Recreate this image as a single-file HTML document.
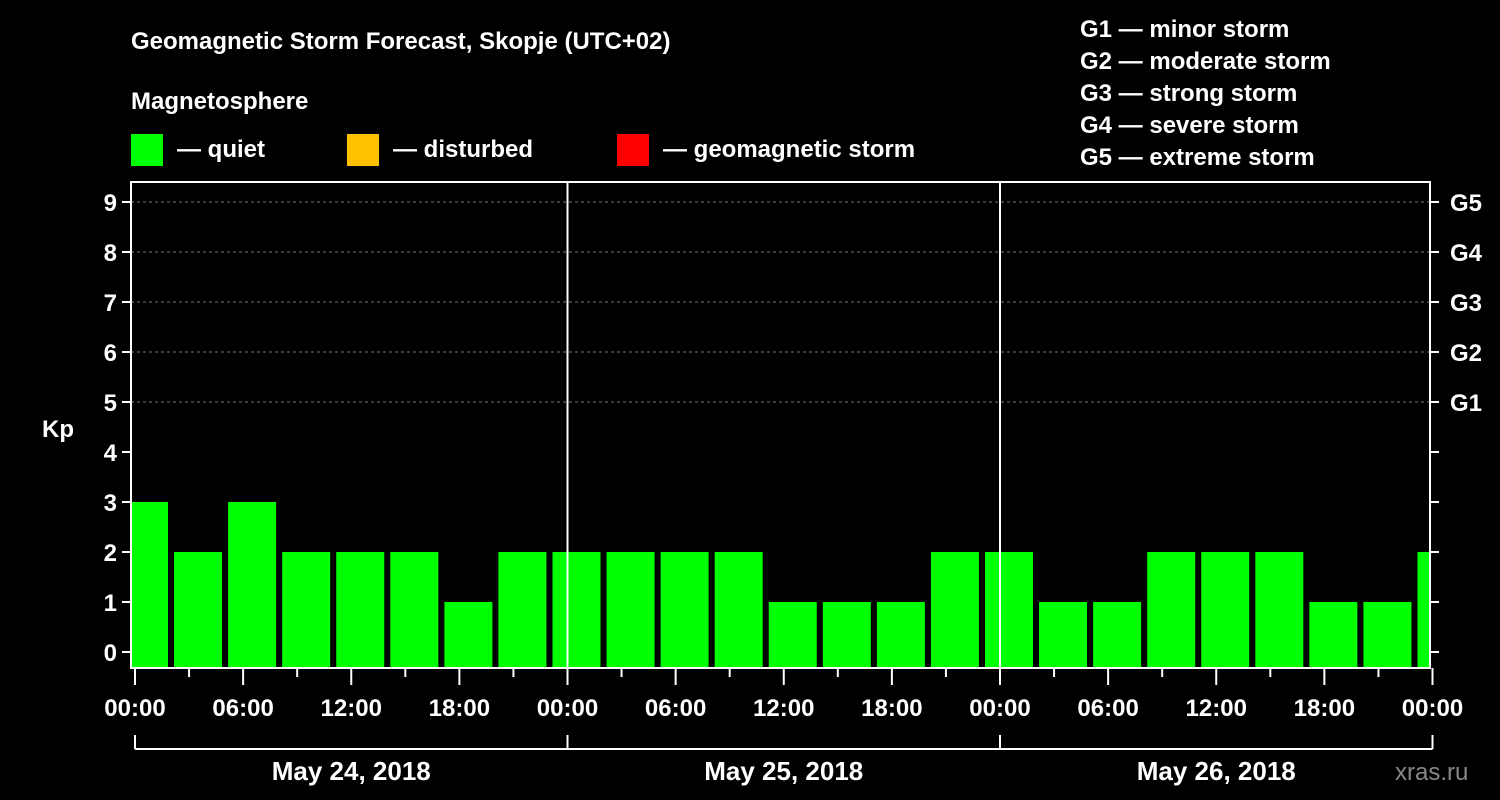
<!DOCTYPE html>
<html><head><meta charset="utf-8"><style>
html,body{margin:0;padding:0;background:#000;}
svg{display:block;font-family:"Liberation Sans",Arial,sans-serif;font-weight:bold;}
</style></head><body>
<svg id="chart" width="1500" height="800" viewBox="0 0 1500 800">
<rect width="1500" height="800" fill="#000"/>
<text x="131" y="49" fill="#fff" font-size="24">Geomagnetic Storm Forecast, Skopje (UTC+02)</text>
<text x="131" y="109" fill="#fff" font-size="24">Magnetosphere</text>
<g><rect x="131" y="134" width="32" height="32" fill="#00ff00"/><text x="177" y="157" fill="#fff" font-size="24">— quiet</text></g>
<g><rect x="347" y="134" width="32" height="32" fill="#ffc000"/><text x="393" y="157" fill="#fff" font-size="24">— disturbed</text></g>
<g><rect x="617" y="134" width="32" height="32" fill="#ff0000"/><text x="663" y="157" fill="#fff" font-size="24">— geomagnetic storm</text></g>
<g fill="#fff" font-size="24">
<text x="1080" y="37">G1 — minor storm</text>
<text x="1080" y="69">G2 — moderate storm</text>
<text x="1080" y="101">G3 — strong storm</text>
<text x="1080" y="133">G4 — severe storm</text>
<text x="1080" y="165">G5 — extreme storm</text>
</g>
<g id="grid"></g>
<g id="bars"></g>
<g id="axes"></g>
<text x="42" y="437" fill="#fff" font-size="24">Kp</text>
<text x="1395" y="780" fill="#888" font-size="24" font-weight="normal">xras.ru</text>
</svg>
<script>
const kpValues = [3,2,3,2,2,2,1,2,2,2,2,2,1,1,1,2,2,1,1,2,2,2,1,1,2];
const yTicks = [0,1,2,3,4,5,6,7,8,9];
const gLabels = ["G1","G2","G3","G4","G5"];
const xTickLabels = ["00:00","06:00","12:00","18:00","00:00","06:00","12:00","18:00","00:00","06:00","12:00","18:00","00:00"];
const dateLabels = ["May 24, 2018","May 25, 2018","May 26, 2018"];

const NS="http://www.w3.org/2000/svg";
const L=131,R=1430,T=182,B=668,X0=135,DAY=432.5;
const yS=v=>652-50*v;
const xS=h=>X0+h*DAY/24;
function mk(tag,attrs,parent){const e=document.createElementNS(NS,tag);for(const k in attrs)e.setAttribute(k,attrs[k]);parent.appendChild(e);return e;}
const grid=document.getElementById('grid'),bars=document.getElementById('bars'),axes=document.getElementById('axes');

yTicks.forEach(v=>{
  if(v>=5){const g=mk('line',{x1:L,x2:R,y1:yS(v),y2:yS(v),stroke:'#777','stroke-dasharray':'3,3','stroke-width':1},grid);
  
  }
  const t=mk('line',{x1:L-9,x2:L,y1:yS(v),y2:yS(v),stroke:'#fff','stroke-width':2},axes);
  
  
  const t2=mk('line',{x1:R,x2:R+9,y1:yS(v),y2:yS(v),stroke:'#fff','stroke-width':2},axes);
  
  
  const lb=mk('text',{x:L-14,y:yS(v)+9,fill:'#fff','font-size':24,'text-anchor':'end'},axes);
  lb.textContent=v;
  
  
});
gLabels.forEach((g,i)=>{
  const lb=mk('text',{x:R+20,y:yS(5+i)+9,fill:'#fff','font-size':24},axes);
  lb.textContent=g;
  
  
});
const clip=mk('clipPath',{id:'pc'},document.getElementById('chart'));
mk('rect',{x:L+1,y:T,width:R-L-2,height:B-T},clip);
bars.setAttribute('clip-path','url(#pc)');
kpValues.forEach((v,i)=>{
  const c=xS(1+3*i)-8.5+9-9; // bar center
  const cx=X0+9+i*54*(DAY/432);
  const r=mk('rect',{x:cx-24,y:yS(v),width:48,height:B-yS(v),fill:'#00ff00'},bars);
  
  
});
// day separators
[1,2].forEach(d=>{const l=mk('line',{x1:xS(24*d),x2:xS(24*d),y1:T,y2:B,stroke:'#fff','stroke-width':2},axes);

});
const frame=mk('rect',{x:L,y:T,width:R-L,height:B-T,fill:'none',stroke:'#fff','stroke-width':2},axes);


for(let h=0;h<=72;h+=3){
  const major=h%6===0;
  const t=mk('line',{x1:xS(h),x2:xS(h),y1:B,y2:B+(major?17:9),stroke:'#fff','stroke-width':2},axes);
  
  
}
xTickLabels.forEach((s,i)=>{
  const lb=mk('text',{x:xS(i*6),y:716,fill:'#fff','font-size':24,'text-anchor':'middle'},axes);
  lb.textContent=s;
  
  
});
const br=mk('line',{x1:xS(0),x2:xS(72),y1:749,y2:749,stroke:'#fff','stroke-width':2},axes);


for(let d=0;d<=3;d++){const t=mk('line',{x1:xS(24*d),x2:xS(24*d),y1:735,y2:749,stroke:'#fff','stroke-width':2},axes);

}
dateLabels.forEach((s,i)=>{
  const lb=mk('text',{x:xS(24*i+12),y:780,fill:'#fff','font-size':26,'text-anchor':'middle'},axes);
  lb.textContent=s;
  
  
});
</script>
</body></html>
